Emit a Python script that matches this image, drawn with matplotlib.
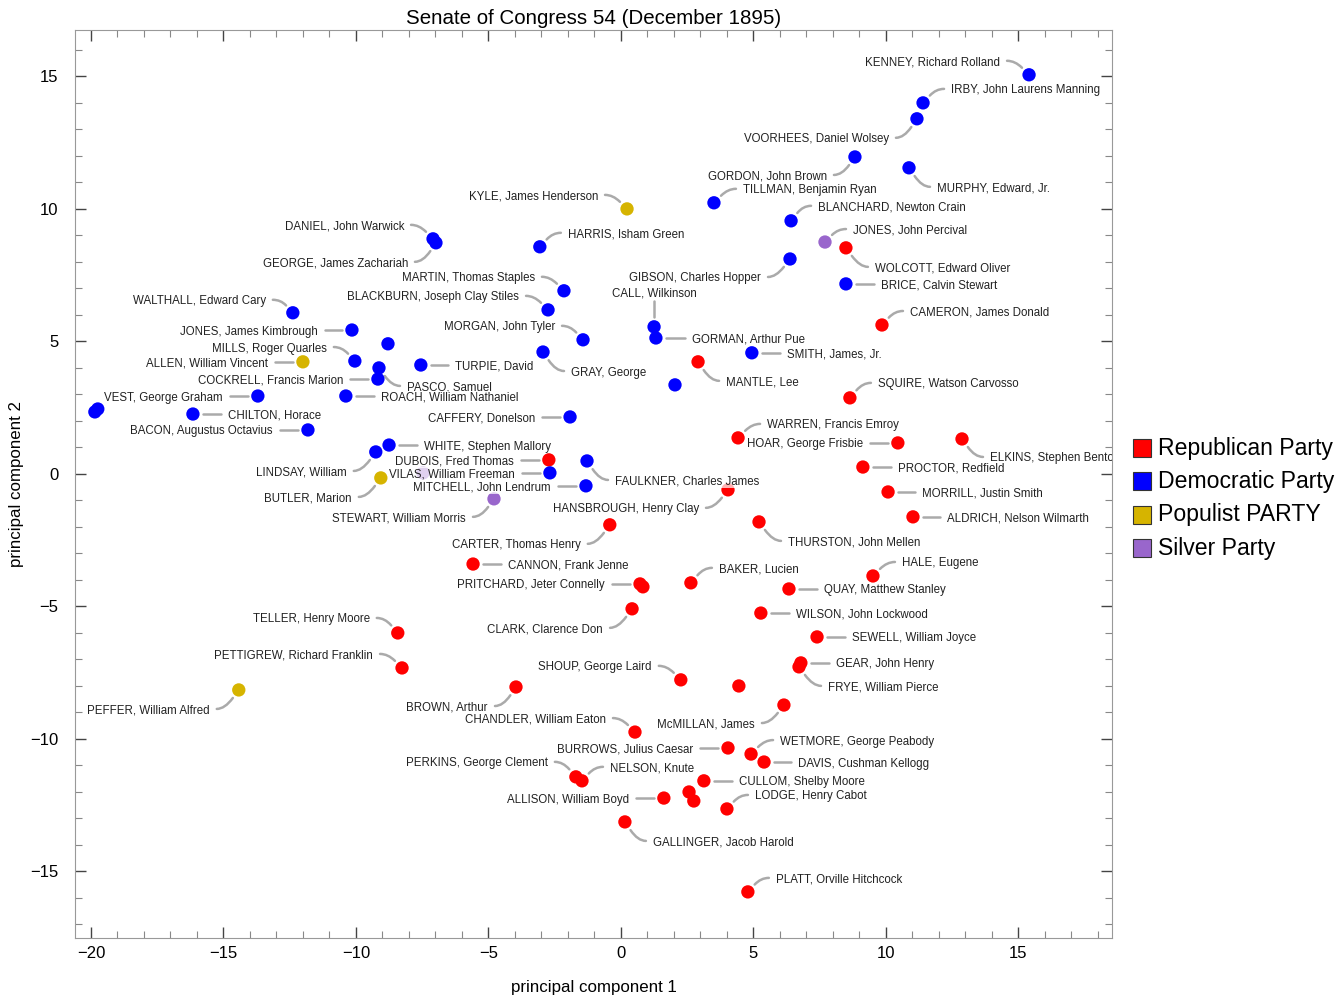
import numpy as np
import matplotlib.pyplot as plt
from matplotlib.path import Path
from matplotlib.patches import PathPatch, Rectangle

plt.rcParams['font.family'] = ['Liberation Sans', 'DejaVu Sans']

# ---- data: principal components per senator, grouped by party ----
rep_names = ['WOLCOTT, Edward Oliver', 'CAMERON, James Donald', 'MANTLE, Lee', 'SQUIRE, Watson Carvosso',
             'WARREN, Francis Emroy', 'HOAR, George Frisbie', 'ELKINS, Stephen Benton', 'PROCTOR, Redfield',
             'MORRILL, Justin Smith', 'ALDRICH, Nelson Wilmarth', 'DUBOIS, Fred Thomas', 'HANSBROUGH, Henry Clay',
             'CARTER, Thomas Henry', 'THURSTON, John Mellen', 'CANNON, Frank Jenne', 'PRITCHARD, Jeter Connelly',
             '', 'BAKER, Lucien', 'HALE, Eugene', 'QUAY, Matthew Stanley', 'CLARK, Clarence Don',
             'WILSON, John Lockwood', 'TELLER, Henry Moore', 'SEWELL, William Joyce', 'PETTIGREW, Richard Franklin',
             'GEAR, John Henry', 'FRYE, William Pierce', 'SHOUP, George Laird', '', 'BROWN, Arthur',
             'McMILLAN, James', 'CHANDLER, William Eaton', 'BURROWS, Julius Caesar', 'WETMORE, George Peabody',
             'DAVIS, Cushman Kellogg', 'PERKINS, George Clement', 'NELSON, Knute', 'CULLOM, Shelby Moore',
             'ALLISON, William Boyd', '', '', 'LODGE, Henry Cabot', 'GALLINGER, Jacob Harold',
             'PLATT, Orville Hitchcock']
rep_pc1 = [8.49, 9.85, 2.91, 8.64, 4.42, 10.45, 12.87, 9.13, 10.08, 11.02, -2.72, 4.04, -0.42, 5.21,
           -5.58, 0.72, 0.83, 2.64, 9.51, 6.34, 0.42, 5.28, -8.42, 7.40, -8.26, 6.79, 6.72, 2.26, 4.45,
           -3.96, 6.15, 0.53, 4.04, 4.91, 5.40, -1.70, -1.47, 3.13, 1.62, 2.57, 2.75, 4.00, 0.15, 4.79]
rep_pc2 = [8.53, 5.62, 4.23, 2.87, 1.36, 1.17, 1.32, 0.26, -0.68, -1.62, 0.53, -0.60, -1.92, -1.81,
           -3.40, -4.15, -4.26, -4.11, -3.85, -4.34, -5.09, -5.25, -6.00, -6.15, -7.32, -7.13, -7.28, -7.77,
           -8.00, -8.04, -8.72, -9.74, -10.34, -10.57, -10.87, -11.43, -11.58, -11.58, -12.23, -12.00,
           -12.34, -12.64, -13.13, -15.77]

dem_names = ['KENNEY, Richard Rolland', 'IRBY, John Laurens Manning', 'VOORHEES, Daniel Wolsey',
             'GORDON, John Brown', 'MURPHY, Edward, Jr.', 'TILLMAN, Benjamin Ryan', 'BLANCHARD, Newton Crain',
             'GIBSON, Charles Hopper', 'BRICE, Calvin Stewart', 'HARRIS, Isham Green', 'DANIEL, John Warwick',
             'GEORGE, James Zachariah', 'MARTIN, Thomas Staples', 'BLACKBURN, Joseph Clay Stiles',
             'MORGAN, John Tyler', 'CALL, Wilkinson', 'GORMAN, Arthur Pue', 'SMITH, James, Jr.', 'GRAY, George',
             '', 'TURPIE, David', 'CAFFERY, Donelson', 'WALTHALL, Edward Cary', 'JONES, James Kimbrough', '',
             'MILLS, Roger Quarles', 'PASCO, Samuel', 'COCKRELL, Francis Marion', 'VEST, George Graham',
             'ROACH, William Nathaniel', 'CHILTON, Horace', '', '', 'BACON, Augustus Octavius',
             'WHITE, Stephen Mallory', 'LINDSAY, William', 'VILAS, William Freeman', 'FAULKNER, Charles James',
             'MITCHELL, John Lendrum']
dem_pc1 = [15.40, 11.40, 11.17, 8.83, 10.87, 3.51, 6.42, 6.38, 8.49, -3.06, -7.09, -6.98, -2.15, -2.75,
           -1.43, 1.25, 1.32, 4.94, -2.94, 2.04, -7.55, -1.92, -12.38, -10.15, -8.79, -10.04, -9.13, -9.17,
           -13.70, -10.38, -16.15, -19.85, -19.74, -11.81, -8.75, -9.25, -2.68, -1.28, -1.32]
dem_pc2 = [15.06, 14.00, 13.40, 11.96, 11.55, 10.23, 9.55, 8.11, 7.17, 8.57, 8.87, 8.72, 6.91, 6.19,
           5.06, 5.55, 5.13, 4.57, 4.60, 3.36, 4.11, 2.15, 6.08, 5.43, 4.91, 4.26, 4.00, 3.58, 2.94, 2.94,
           2.26, 2.34, 2.45, 1.66, 1.09, 0.83, 0.04, 0.49, -0.45]

pop_names = ['KYLE, James Henderson', 'ALLEN, William Vincent', 'BUTLER, Marion', 'PEFFER, William Alfred']
pop_pc1 = [0.23, -12.00, -9.06, -14.42]
pop_pc2 = [10.00, 4.23, -0.15, -8.15]

sil_names = ['JONES, John Percival', 'STEWART, William Morris', '']
sil_pc1 = [7.70, -4.79, -7.47]
sil_pc2 = [8.75, -0.94, 0.04]

parties = ['Republican Party', 'Democratic Party', 'Populist PARTY', 'Silver Party']
colors = ['#ff0000', '#0000ff', '#d6b400', '#9966cc']

# ---- layout: callout label offsets in pixels (dx right, dy down); None = no label ----
rep_off = [(29, 19), (28, -14), (28, 19), (28, -15), (29, -14), (-35, 0), (28, 18), (35, 0), (34, 0),
           (34, 0), (-35, 0), (-29, 18), (-29, 19), (29, 19), (35, 0), (-35, 0), None, (28, -15),
           (29, -14), (35, 0), (-29, 19), (35, 0), (-28, -15), (35, 0), (-29, -14), (35, 0), (29, 19),
           (-29, -14), None, (-28, 19), (-29, 18), (-29, -14), (-35, 0), (29, -14), (34, 0), (-28, -15),
           (28, -14), (35, 0), (-35, 0), None, None, (28, -14), (28, 19), (28, -14)]
dem_off = [(-29, -14), (28, -14), (-28, 19), (-28, 18), (28, 19), (29, -14), (27, -15), (-29, 18),
           (35, 0), (28, -14), (-29, -14), (-28, 19), (-29, -14), (-29, -14), (-28, -14), (0, -35),
           (36, 0), (35, 0), (28, 19), None, (34, 0), (-35, 0), (-27, -13), (-34, 0), None, (-28, -14),
           (28, 18), (-35, 0), (-35, 0), (35, 0), (35, 0), None, None, (-35, 0), (35, 0), (-29, 19),
           (-35, 0), (28, 19), (-35, 0)]
pop_off = [(-29, -14), (-35, 0), (-29, 19), (-29, 19)]
sil_off = [(28, -13), (-28, 18), None]

groups = [(rep_names, rep_pc1, rep_pc2, rep_off),
          (dem_names, dem_pc1, dem_pc2, dem_off),
          (pop_names, pop_pc1, pop_pc2, pop_off),
          (sil_names, sil_pc1, sil_pc2, sil_off)]

W, H = 1336, 997
fig = plt.figure(figsize=(W / 100, H / 100), dpi=100)
ax = fig.add_axes([75 / W, 59 / H, 1037 / W, 908 / H])
ax.set_xlim(-20.6, 18.53)
ax.set_ylim(-17.51, 16.75)

for (nm, x, y, off), col in zip(groups, colors):
    ax.scatter(x, y, s=92, color=col, edgecolors='none', zorder=3)

to_px = ax.transData.transform
to_data = ax.transData.inverted().transform
line_col = '#aaaaaa'

for nm, xs, ys, offs in groups:
    for name, x, y, off in zip(nm, xs, ys, offs):
        if off is None:
            continue
        dx, dy = off
        px, py = to_px((x, y))
        lx, ly = px + dx, py - dy
        if dx == 0:
            s = (px, py + 10)
            e = (lx, ly - 9)
            verts = [s, e]
            codes = [Path.MOVETO, Path.LINETO]
            ha = 'center'
        else:
            sg = np.sign(dx)
            ha = 'left' if sg > 0 else 'right'
            e = (lx - sg * 7, ly)
            if dy == 0:
                s = (px + sg * 10, py)
                verts = [s, e]
                codes = [Path.MOVETO, Path.LINETO]
            else:
                h = np.array((e[0] - sg * 8, ly))
                v = h - np.array((px, py))
                v = v / np.hypot(*v)
                s = np.array((px, py)) + v * 10
                verts = [s, h, e]
                codes = [Path.MOVETO, Path.CURVE3, Path.CURVE3]
        verts = to_data(np.array(verts, dtype=float))
        ax.add_patch(PathPatch(Path(verts, codes), fill=False, ec=line_col, lw=1.8,
                               capstyle='round', zorder=2))
        tx, ty = to_data((lx, ly - 1.5))
        ax.text(tx, ty, name, ha=ha, va='center', fontsize=8.3, color='#222222', zorder=4,
                clip_on=True,
                bbox=dict(boxstyle='square,pad=0.08', fc='white', ec='none', alpha=0.7))

ax.set_xticks(np.arange(-20, 16, 5))
ax.set_xticks(np.arange(-20, 19, 1), minor=True)
ax.set_yticks(np.arange(-15, 16, 5))
ax.set_yticks(np.arange(-17, 17, 1), minor=True)
ax.tick_params(which='both', direction='in', top=True, right=True)
ax.tick_params(which='major', length=8, width=1, color='#444444', labelsize=12)
ax.tick_params(axis='x', which='major', pad=6)
ax.tick_params(axis='y', which='major', pad=12)
ax.tick_params(which='minor', length=5, width=0.8, color='#888888')
for sp in ax.spines.values():
    sp.set_color('#999999')

ax.set_title('Senate of Congress 54 (December 1895)', fontsize=14.8, pad=4)
ax.set_xlabel('principal component 1', fontsize=12.2)
ax.set_ylabel('principal component 2', fontsize=12.2)
ax.xaxis.set_label_coords(0.5, -0.046)
ax.yaxis.set_label_coords(-0.049, 0.5)

# legend outside on the right
for k, (lab, col) in enumerate(zip(parties, colors)):
    yc = 448 + k * 33.4
    fig.add_artist(Rectangle((1133 / W, 1 - (yc + 9) / H), 18 / W, 18 / H, fc=col, ec='#333333',
                             lw=0.8, transform=fig.transFigure))
    fig.text(1158 / W, 1 - yc / H, lab, fontsize=16.6, va='center')

fig.savefig('out.png', dpi=100)
